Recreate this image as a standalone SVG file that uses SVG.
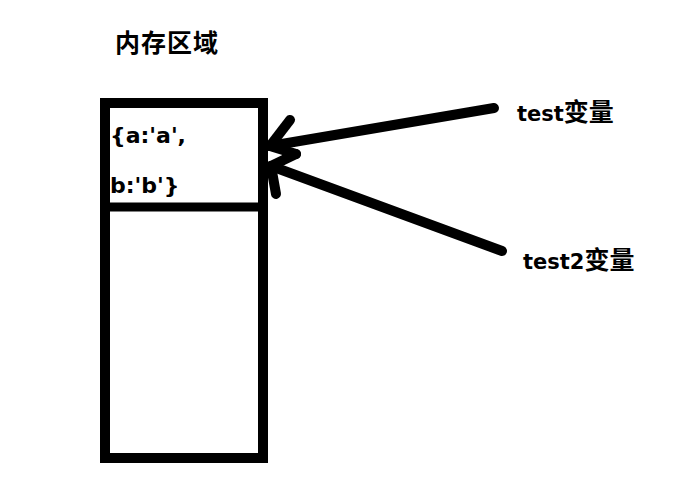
<svg xmlns="http://www.w3.org/2000/svg" width="682" height="498" viewBox="0 0 682 498">
<style>
.t{font-family:"DejaVu Sans","Noto Sans CJK SC",sans-serif;font-weight:bold;fill:#000;font-size:21px}
.b{font-size:22px}
.c{font-family:"Noto Sans CJK SC","Noto Sans CJK JP",sans-serif;font-size:25px}
.ln{stroke:#000;stroke-width:10;stroke-linecap:round;fill:none}
.bx{stroke:#000;stroke-width:10;fill:#fff}
</style>
<rect width="682" height="498" fill="#fff"/>
<text class="t c" x="115" y="52" textLength="103" lengthAdjust="spacing">内存区域</text>
<g id="memory">
<rect class="bx" x="105" y="103" width="158" height="355"/>
<line x1="105" y1="207" x2="263" y2="207" stroke="#000" stroke-width="9"/>
<text class="t b" x="110" y="143">{a:'a',</text>
<text class="t b" x="110" y="193">b:'b'}</text>
</g>
<g id="test">
<text class="t" x="517" y="121">test<tspan class="c">变量</tspan></text>
</g>
<g id="test2">
<text class="t" x="523" y="269">test2<tspan class="c">变量</tspan></text>
</g>
<g id="connectors">
<line class="ln" x1="494" y1="108" x2="270" y2="146"/>
<line class="ln" x1="270" y1="146" x2="290" y2="120"/>
<line class="ln" x1="270" y1="146" x2="296" y2="154"/>
<line class="ln" x1="502" y1="251" x2="271" y2="166"/>
<line class="ln" x1="271" y1="166" x2="296" y2="154"/>
<line class="ln" x1="271" y1="166" x2="276" y2="194"/>
</g>
</svg>
